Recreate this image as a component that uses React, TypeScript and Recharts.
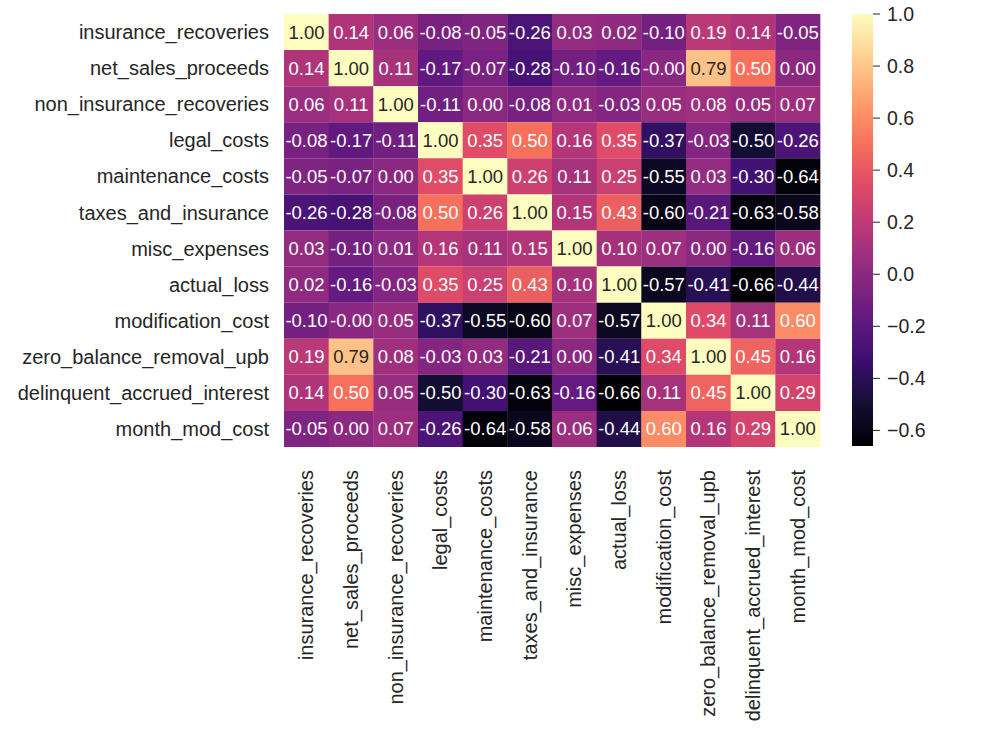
import React from 'react';
import { BarChart, Bar, XAxis, YAxis, Cell, LabelList } from 'recharts';

const labels = [
  'insurance_recoveries',
  'net_sales_proceeds',
  'non_insurance_recoveries',
  'legal_costs',
  'maintenance_costs',
  'taxes_and_insurance',
  'misc_expenses',
  'actual_loss',
  'modification_cost',
  'zero_balance_removal_upb',
  'delinquent_accrued_interest',
  'month_mod_cost',
];

const insuranceRecoveries = [1.0, 0.14, 0.06, -0.08, -0.05, -0.26, 0.03, 0.02, -0.1, 0.19, 0.14, -0.05];
const netSalesProceeds = [0.14, 1.0, 0.11, -0.17, -0.07, -0.28, -0.1, -0.16, -0.004, 0.79, 0.5, 0.0];
const nonInsuranceRecoveries = [0.06, 0.11, 1.0, -0.11, 0.0, -0.08, 0.01, -0.03, 0.05, 0.08, 0.05, 0.07];
const legalCosts = [-0.08, -0.17, -0.11, 1.0, 0.35, 0.5, 0.16, 0.35, -0.37, -0.03, -0.5, -0.26];
const maintenanceCosts = [-0.05, -0.07, 0.0, 0.35, 1.0, 0.26, 0.11, 0.25, -0.55, 0.03, -0.3, -0.64];
const taxesAndInsurance = [-0.26, -0.28, -0.08, 0.5, 0.26, 1.0, 0.15, 0.43, -0.6, -0.21, -0.63, -0.58];
const miscExpenses = [0.03, -0.1, 0.01, 0.16, 0.11, 0.15, 1.0, 0.1, 0.07, 0.0, -0.16, 0.06];
const actualLoss = [0.02, -0.16, -0.03, 0.35, 0.25, 0.43, 0.1, 1.0, -0.57, -0.41, -0.66, -0.44];
const modificationCost = [-0.1, -0.004, 0.05, -0.37, -0.55, -0.6, 0.07, -0.57, 1.0, 0.34, 0.11, 0.6];
const zeroBalanceRemovalUpb = [0.19, 0.79, 0.08, -0.03, 0.03, -0.21, 0.0, -0.41, 0.34, 1.0, 0.45, 0.16];
const delinquentAccruedInterest = [0.14, 0.5, 0.05, -0.5, -0.3, -0.63, -0.16, -0.66, 0.11, 0.45, 1.0, 0.29];
const monthModCost = [-0.05, 0.0, 0.07, -0.26, -0.64, -0.58, 0.06, -0.44, 0.6, 0.16, 0.29, 1.0];

const matrix = [
  insuranceRecoveries,
  netSalesProceeds,
  nonInsuranceRecoveries,
  legalCosts,
  maintenanceCosts,
  taxesAndInsurance,
  miscExpenses,
  actualLoss,
  modificationCost,
  zeroBalanceRemovalUpb,
  delinquentAccruedInterest,
  monthModCost,
];

const colorbarTicks = [-0.6, -0.4, -0.2, 0.0, 0.2, 0.4, 0.6, 0.8, 1.0];

const VMIN = Math.min(...matrix.flat());
const VMAX = 1.0;

const magmaStops = [
  '#000004', '#140e36', '#3b0f70', '#641a80', '#8c2981', '#b73779',
  '#de4968', '#f7705c', '#fe9f6d', '#fecf92', '#fcfdbf',
];

const hexToRgb = (h: string) => [
  parseInt(h.slice(1, 3), 16),
  parseInt(h.slice(3, 5), 16),
  parseInt(h.slice(5, 7), 16),
];

const magmaRgb = (t: number) => {
  const c = Math.max(0, Math.min(1, t)) * (magmaStops.length - 1);
  const i = Math.min(Math.floor(c), magmaStops.length - 2);
  const f = c - i;
  const a = hexToRgb(magmaStops[i]);
  const b = hexToRgb(magmaStops[i + 1]);
  return a.map((v, k) => Math.round(v + (b[k] - v) * f));
};

const norm = (v: number) => (v - VMIN) / (VMAX - VMIN);
const colorOf = (v: number) => {
  const [r, g, b] = magmaRgb(norm(v));
  return `rgb(${r},${g},${b})`;
};
const textColorOf = (v: number) => {
  const lin = magmaRgb(norm(v)).map((c) => {
    const s = c / 255;
    return s <= 0.03928 ? s / 12.92 : Math.pow((s + 0.055) / 1.055, 2.4);
  });
  const lum = 0.2126 * lin[0] + 0.7152 * lin[1] + 0.0722 * lin[2];
  return lum > 0.408 ? '#262626' : '#ffffff';
};

const data = labels.map((col, j) => {
  const row: Record<string, any> = { col };
  matrix.forEach((r, i) => {
    row[`r${i}`] = 1;
    row[`a${i}`] = r[j].toFixed(2);
  });
  return row;
});

const FONT = '"Liberation Sans", Arial, Helvetica, sans-serif';
const TEXT = '#262626';

const XTick = (props: any) => {
  const { x, y, payload } = props;
  return (
    <text
      transform={`translate(${x},${y + 23}) rotate(-90)`}
      textAnchor="end"
      dominantBaseline="central"
      fontFamily={FONT}
      fontSize={20}
      fill={TEXT}
    >
      {payload.value}
    </text>
  );
};

const makeLabel = () => (p: any) => {
  const vb = p.viewBox || p;
  const x = vb.x;
  const y = vb.y;
  const w = vb.width;
  const h = vb.height;
  const v = parseFloat(p.value);
  return (
    <text
      x={x + w / 2}
      y={y + h / 2}
      textAnchor="middle"
      dominantBaseline="central"
      fontFamily={FONT}
      fontSize={18.5}
      fill={textColorOf(v)}
    >
      {p.value}
    </text>
  );
};

const cbData = [{ name: 'cb', range: [VMIN, VMAX] }];

const ColorbarShape = (p: any) => {
  const { x, y, width, height } = p;
  const top = Math.min(y, y + height);
  const h = Math.abs(height);
  const n = magmaStops.length - 1;
  return (
    <g>
      <defs>
        <linearGradient id="magmaGradCb" x1="0" y1="0" x2="0" y2="1">
          {magmaStops.map((_, k) => (
            <stop key={k} offset={`${(k * 100) / n}%`} stopColor={magmaStops[n - k]} />
          ))}
        </linearGradient>
      </defs>
      <rect x={x} y={top} width={width} height={h} fill="url(#magmaGradCb)" />
    </g>
  );
};

export default function App() {
  return (
    <div style={{ position: 'absolute', left: 0, top: 0, width: 1000, height: 744, background: '#fff' }}>
      <div style={{ position: 'absolute', left: 0, top: 0 }}>
        <BarChart
          width={840}
          height={744}
          data={data}
          margin={{ top: 14, right: 20, bottom: 0, left: 0 }}
          barCategoryGap={0}
          barGap={0}
        >
          <XAxis
            dataKey="col"
            type="category"
            height={297}
            tickLine={false}
            axisLine={false}
            tickSize={0}
            tickMargin={0}
            interval={0}
            tick={<XTick />}
          />
          <YAxis
            type="number"
            domain={[0, 12]}
            reversed
            width={284}
            ticks={labels.map((_, i) => i + 0.5)}
            interval={0}
            tickFormatter={(v: number) => labels[Math.floor(v)]}
            tickLine={false}
            axisLine={false}
            tickSize={6}
            tickMargin={9}
            allowDataOverflow
            tick={{ fill: TEXT, fontSize: 20, fontFamily: FONT }}
          />
          {matrix.map((row, i) => (
            <Bar key={i} dataKey={`r${i}`} stackId="a" isAnimationActive={false}>
              {row.map((v, j) => (
                <Cell key={j} fill={colorOf(v)} />
              ))}
              <LabelList dataKey={`a${i}`} content={makeLabel()} />
            </Bar>
          ))}
        </BarChart>
      </div>
      <div style={{ position: 'absolute', left: 852, top: 0 }}>
        <BarChart
          width={140}
          height={744}
          data={cbData}
          margin={{ top: 14, right: 0, bottom: 298, left: 0 }}
          barCategoryGap={0}
        >
          <XAxis dataKey="name" hide />
          <YAxis
            orientation="right"
            type="number"
            domain={[VMIN, VMAX]}
            allowDataOverflow
            ticks={colorbarTicks}
            interval={0}
            width={119}
            axisLine={false}
            tickSize={7}
            tickMargin={7}
            tickLine={{ stroke: TEXT, strokeWidth: 1 }}
            tickFormatter={(v: number) => (v < 0 ? '\u2212' + Math.abs(v).toFixed(1) : v.toFixed(1))}
            tick={{ fill: TEXT, fontSize: 19.5, fontFamily: FONT }}
          />
          <Bar dataKey="range" isAnimationActive={false} shape={<ColorbarShape />} />
        </BarChart>
      </div>
    </div>
  );
}
